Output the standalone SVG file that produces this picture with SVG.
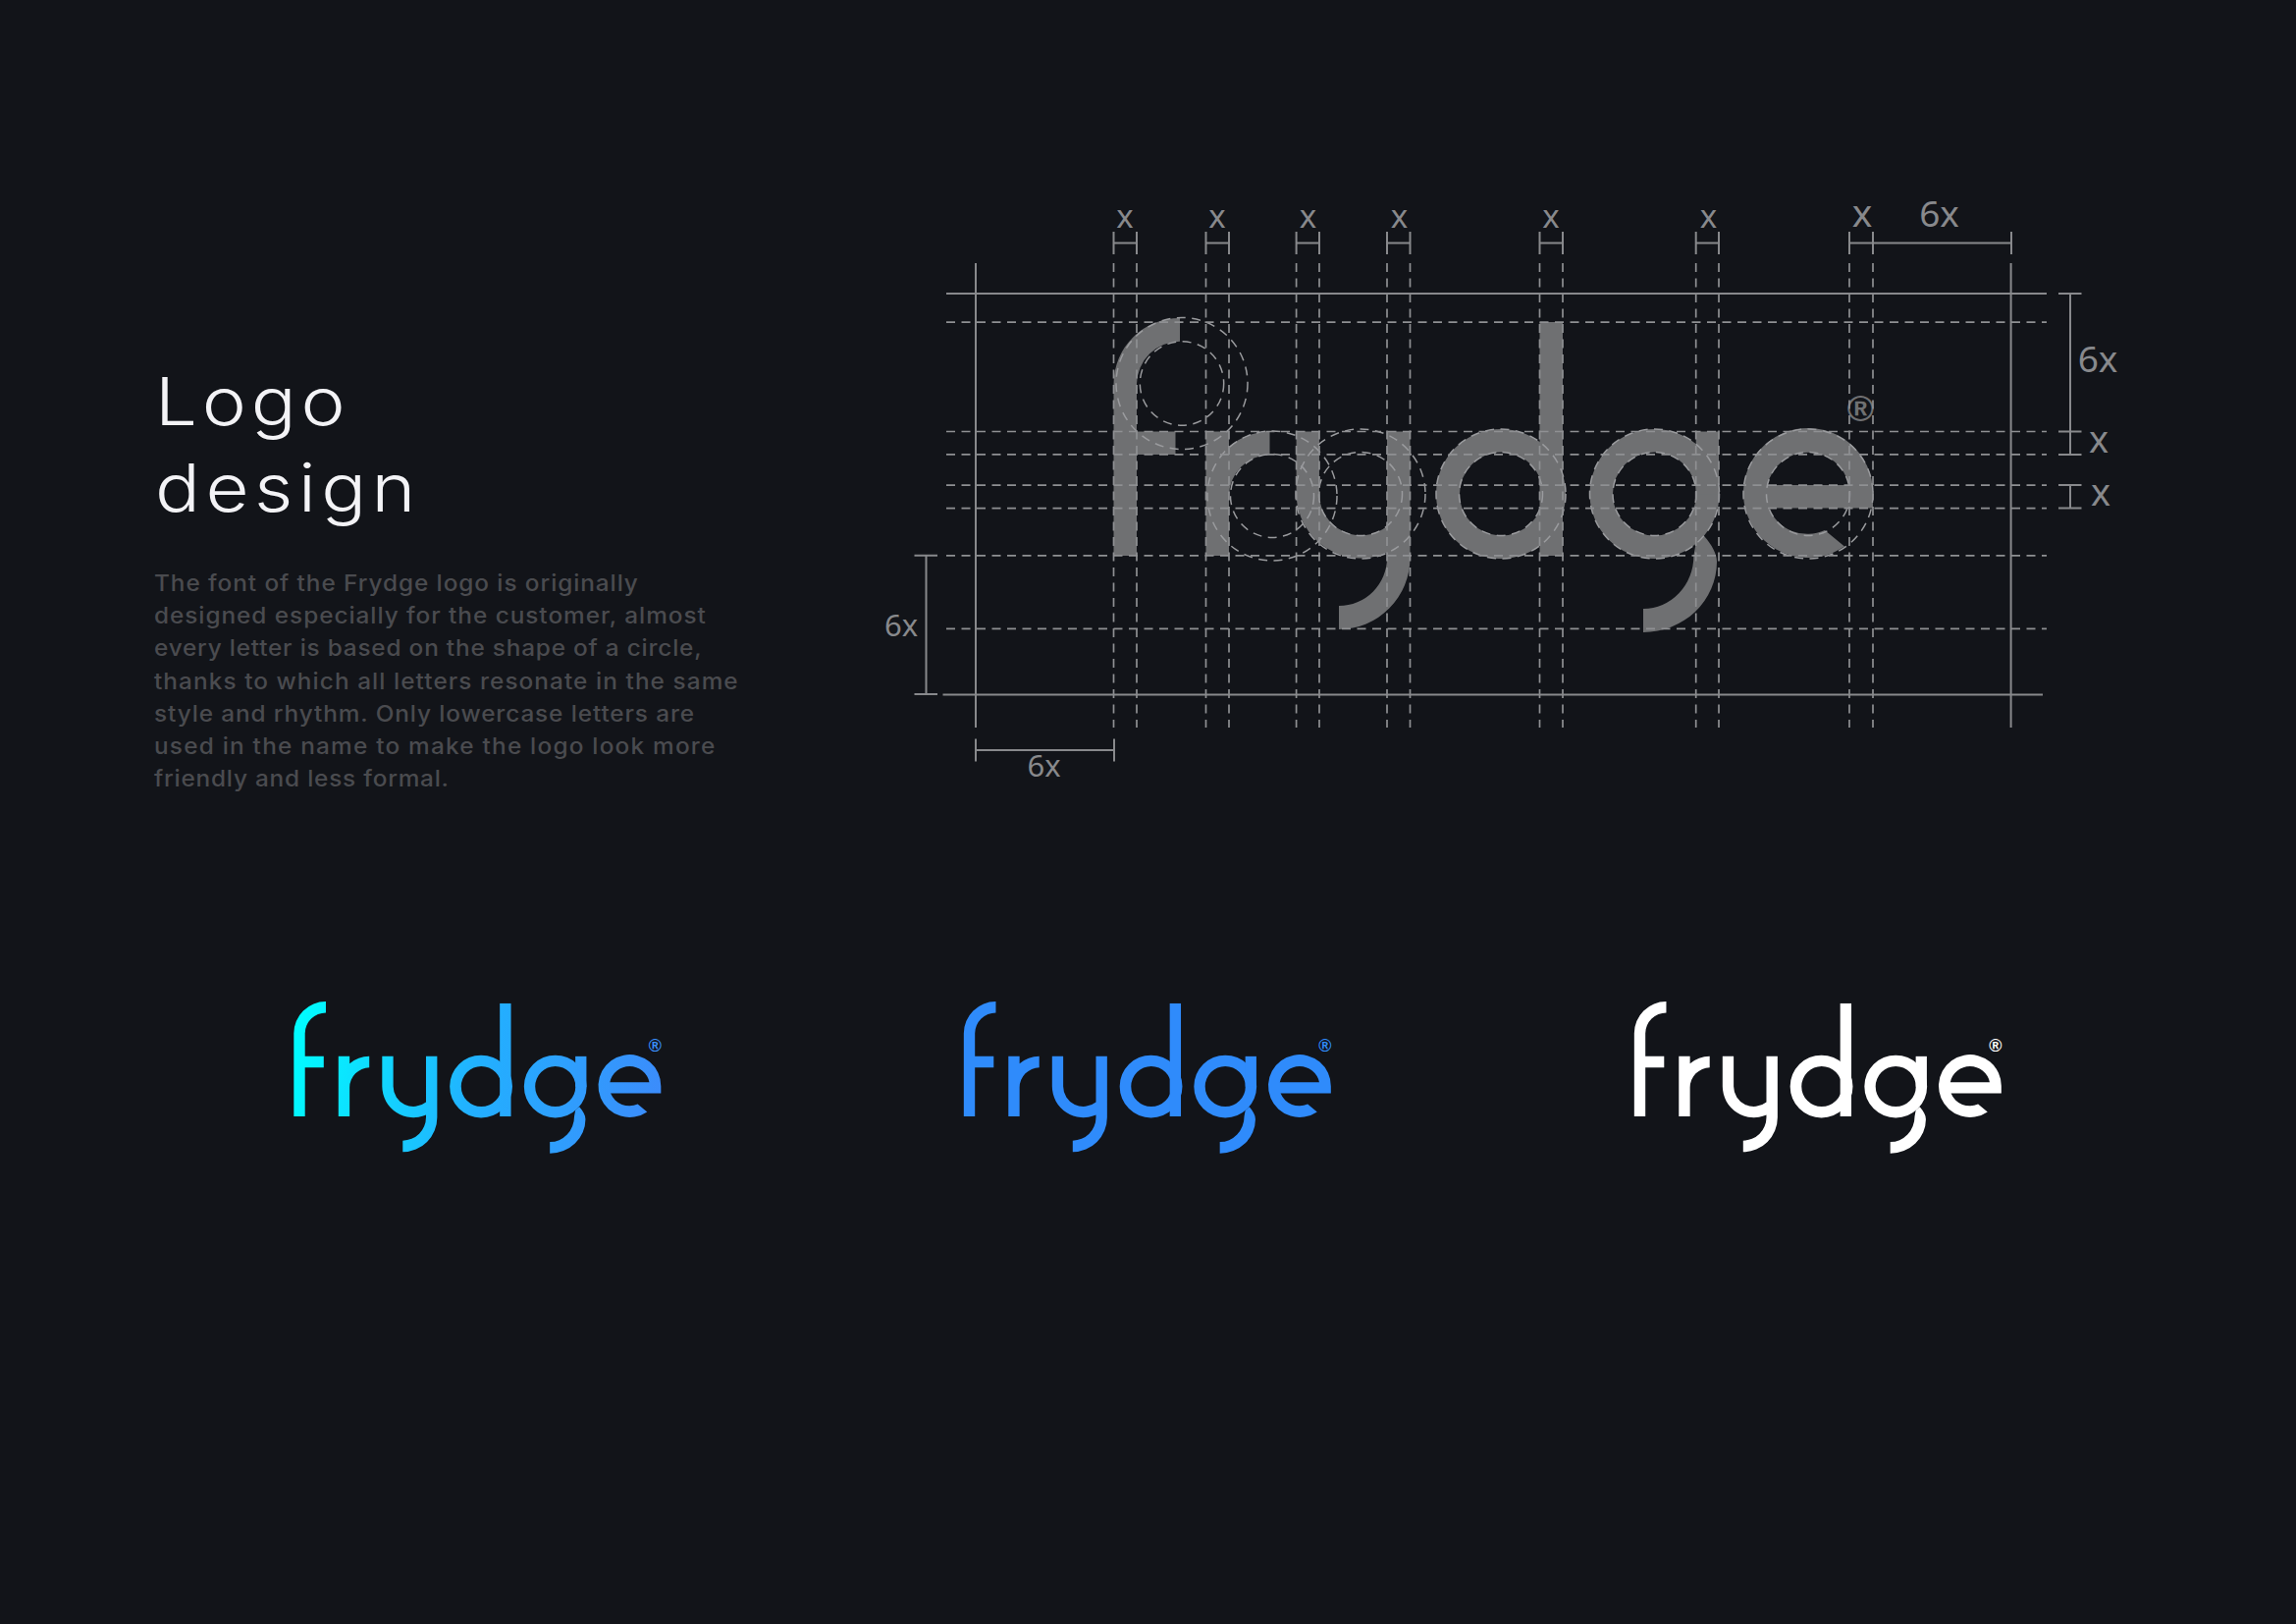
<svg xmlns="http://www.w3.org/2000/svg" xmlns:xlink="http://www.w3.org/1999/xlink" width="2339" height="1654" viewBox="0 0 2339 1654">
<style>
.s{stroke:#88898c;stroke-width:2;fill:none}
.d{stroke:#8f9093;stroke-width:1.7;stroke-dasharray:9 6.5;fill:none}
.c{stroke:#9a9b9e;stroke-width:1.5;stroke-dasharray:9 6.5;fill:none}
.lb{font-family:"Noto Sans","Open Sans",sans-serif;font-weight:400;fill:#88898c;text-anchor:middle}
.ti{font-family:Inter,"Noto Sans",sans-serif;font-weight:300;font-size:68px;fill:#f3f3f6}
.bd{font-family:Inter,"Noto Sans",sans-serif;font-weight:500;font-size:23px;fill:#4a4b4f}
.rg{font-family:"Liberation Sans",Arial,sans-serif;font-size:37px;font-weight:700}
</style>
<defs>
<linearGradient id="grad" gradientUnits="userSpaceOnUse" x1="1134" y1="400" x2="1908" y2="560">
<stop offset="0" stop-color="#00fdff"/><stop offset="0.5" stop-color="#22b0ff"/><stop offset="1" stop-color="#3c8bfb"/>
</linearGradient>
<g id="logo">
<path d="M1202,324A67,67 0 0 0 1134.5,391V566H1158V463H1197.5V439.5H1158V391A44,44 0 0 1 1202,347.7Z"/>
<path d="M1228.5,439.5H1252V455A66,66 0 0 1 1293.5,439.5V463A42.5,42.5 0 0 0 1252,505V566H1228.5Z"/>
<path d="M1320.6,439.5H1344V503A42.5,42.5 0 0 0 1413,536V439.5H1436.5V568A72.5,73 0 0 1 1364,641V617A49,49 0 0 0 1413,568V563A66,66 0 0 1 1320.6,503Z"/>
<path fill-rule="evenodd" d="M1463,503A66,66 0 1 0 1595,503A66,66 0 1 0 1463,503ZM1487,503A42.5,42.5 0 1 1 1572,503A42.5,42.5 0 1 1 1487,503Z"/>
<rect x="1568.5" y="328" width="23.5" height="238"/>
<path fill-rule="evenodd" d="M1619.5,503A66,66 0 1 0 1751.5,503A66,66 0 1 0 1619.5,503ZM1643,503A42.5,42.5 0 1 1 1728,503A42.5,42.5 0 1 1 1643,503Z"/>
<rect x="1727.7" y="439.5" width="23.3" height="64"/>
<path d="M1736,546C1744,555 1749,564 1749,572A75,72 0 0 1 1674,644V620A51,54 0 0 0 1725.4,566L1727.7,553Z"/>
<path fill-rule="evenodd" d="M1908,517.6V503A66,66 0 1 0 1879,556.6L1859,540A42.5,42.5 0 0 1 1802,517.6ZM1800.5,494A42.5,42.5 0 0 1 1883.5,494Z"/>
<text class="rg" x="1881.8" y="429">®</text>
</g>
</defs>
<rect width="2339" height="1654" fill="#121419"/>
<g id="title"><text class="ti" transform="translate(158 432.6) scale(1.12 1)" textLength="173">Logo</text><text class="ti" transform="translate(158 520.6) scale(1.12 1)" textLength="237">design</text></g>
<g id="description">
<text class="bd" transform="translate(157 601.7) scale(1.06 1)" textLength="465">The font of the Frydge logo is originally</text>
<text class="bd" transform="translate(157 635.2) scale(1.06 1)" textLength="530">designed especially for the customer, almost</text>
<text class="bd" transform="translate(157 668.4) scale(1.06 1)" textLength="526">every letter is based on the shape of a circle,</text>
<text class="bd" transform="translate(157 701.6) scale(1.06 1)" textLength="561">thanks to which all letters resonate in the same</text>
<text class="bd" transform="translate(157 734.8) scale(1.06 1)" textLength="519">style and rhythm. Only lowercase letters are</text>
<text class="bd" transform="translate(157 768) scale(1.06 1)" textLength="539">used in the name to make the logo look more</text>
<text class="bd" transform="translate(157 801.2) scale(1.06 1)" textLength="283">friendly and less formal.</text>
</g>
<g id="construction-logo" fill="#6f7072"><use href="#logo" xlink:href="#logo"/></g>
<g id="construction-circles" class="c">
<circle cx="1204" cy="390.5" r="42.7"/><circle cx="1204" cy="390.5" r="67"/>
<circle cx="1296" cy="505" r="42.5"/><circle cx="1296" cy="505" r="66"/>
<circle cx="1386" cy="503" r="42.5"/><circle cx="1386" cy="503" r="66"/>
<circle cx="1529" cy="503" r="42.5"/><circle cx="1529" cy="503" r="66"/>
<circle cx="1685.5" cy="503" r="42.5"/><circle cx="1685.5" cy="503" r="66"/>
<circle cx="1842" cy="503" r="42.5"/><circle cx="1842" cy="503" r="66"/>
</g>
<g id="connectors">
<g class="d">
<path d="M964,328.2H2085M964,439.5H2085M964,462.9H2085M964,494.2H2085M964,517.6H2085M964,565.8H2085M964,640.4H2085"/>
<path d="M1134.5,268V741M1158,268V741M1228.5,268V741M1252,268V741M1320.6,268V741M1344,268V741M1413,268V741M1436.5,268V741M1568.5,268V741M1592,268V741M1727.7,268V741M1751,268V741M1884,268V741M1908,268V741"/>
</g>
<g class="s">
<path d="M964,299H2085M960.5,707.5H2081M994,268V741M2048.6,268V741"/>
<path d="M1134.5,236V259M1158,236V259M1134.5,247.4H1158M1228.5,236V259M1252,236V259M1228.5,247.4H1252M1320.6,236V259M1344,236V259M1320.6,247.4H1344M1413,236V259M1436.5,236V259M1413,247.4H1436.5M1568.5,236V259M1592,236V259M1568.5,247.4H1592M1727.7,236V259M1751,236V259M1727.7,247.4H1751M1884,236V259M1908,236V259M1884,247.4H1908M2049,236V259M1908,247.4H2049"/>
<path d="M2097,299H2120.5M2097,439.5H2120.5M2097,463H2120.5M2109,299V463M2097,494H2120.5M2097,517.6H2120.5M2109,494V517.6"/>
<path d="M931.5,565.8H955M931.5,707H955M943.5,565.8V707"/>
<path d="M994,752.6V775.5M1135,752.6V775.5M994,764H1135"/>
</g>
</g>
<g id="labels">
<text class="lb" x="1146" y="232" font-size="33">x</text>
<text class="lb" x="1240" y="232" font-size="33">x</text>
<text class="lb" x="1332.5" y="232" font-size="33">x</text>
<text class="lb" x="1425.5" y="232" font-size="33">x</text>
<text class="lb" x="1580" y="232" font-size="33">x</text>
<text class="lb" x="1740.5" y="232" font-size="33">x</text>
<text class="lb" x="1897" y="230.5" font-size="39">x</text>
<text class="lb" x="1975.5" y="231" font-size="37">6x</text>
<text class="lb" x="2137" y="379" font-size="37">6x</text>
<text class="lb" x="2138" y="461" font-size="38">x</text>
<text class="lb" x="2140" y="515" font-size="38">x</text>
<text class="lb" x="918" y="648" font-size="31">6x</text>
<text class="lb" x="1063.5" y="791" font-size="31">6x</text>
</g>
<g id="logo-gradient" fill="url(#grad)"><use href="#logo" xlink:href="#logo" transform="translate(-249.2 863.35) scale(.4835)"/></g>
<g id="logo-blue" fill="#2f8bfb"><use href="#logo" xlink:href="#logo" transform="translate(433.3 863.35) scale(.4835)"/></g>
<g id="logo-white" fill="#ffffff"><use href="#logo" xlink:href="#logo" transform="translate(1116.3 863.35) scale(.4835)"/></g>
</svg>
